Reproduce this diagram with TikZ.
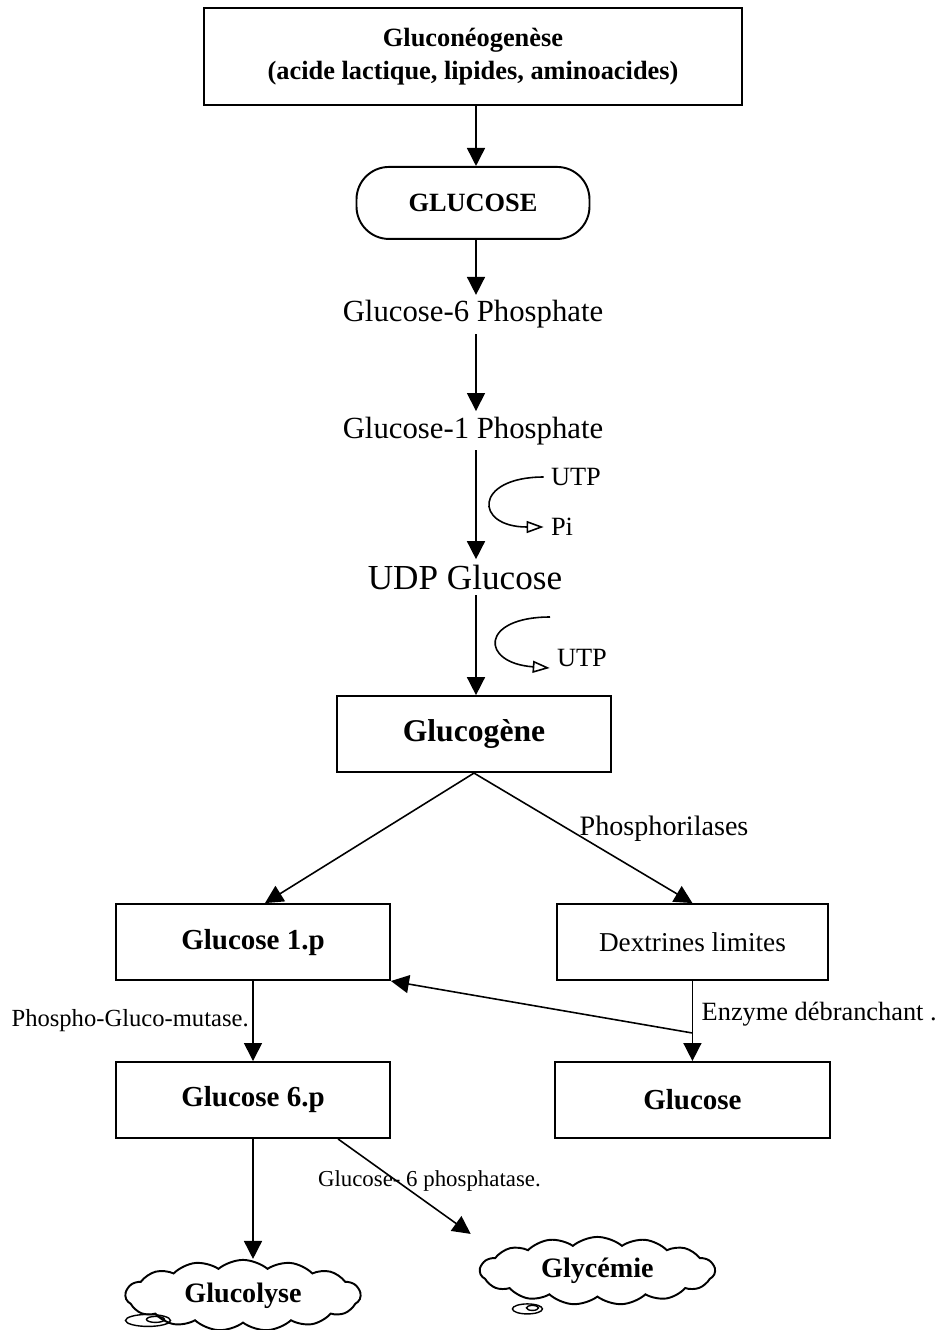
\documentclass[tikz,border=0pt]{standalone}
\usepackage{fontspec}
\setmainfont{Liberation Serif}
\usetikzlibrary{arrows.meta, positioning, shapes.symbols, calc}
\tikzset{
	source/.style={rectangle, draw, line width=1.1pt, align=center, minimum width=10.76cm, minimum height=1.94cm, font=\fontsize{15}{18.7}\selectfont\bfseries},
	pill/.style={rectangle, rounded corners=0.65cm, draw, line width=1.1pt, minimum width=4.66cm, minimum height=1.44cm, font=\fontsize{15}{18}\selectfont\bfseries},
	metab/.style={inner sep=3pt, font=\fontsize{17.5}{20}\selectfont},
	stepbox/.style={rectangle, draw, line width=1.1pt, minimum width=5.48cm, minimum height=1.52cm, font=\fontsize{16.5}{19}\selectfont\bfseries},
	sink/.style={cloud, cloud puffs=15, cloud puff arc=80, aspect=3.3, draw, line width=1.1pt, minimum width=4.7cm, minimum height=1.42cm, font=\fontsize{16}{18}\selectfont\bfseries},
	cofactor/.style={inner sep=4pt, font=\fontsize{15}{17}\selectfont},
	enzyme/.style={inner sep=2pt, font=\fontsize{14}{16}\selectfont},
	arrow/.style={-{Triangle[length=0.36cm, width=0.36cm]}, line width=0.9pt},
	cofarrow/.style={-{Triangle[open, length=0.34cm, width=0.24cm]}, line width=0.9pt},
}
\begin{document}
\begin{tikzpicture}
	\useasboundingbox (0,0) rectangle (19.02,-26.6);
	\coordinate (spine) at (9.52,0);
	% main chain
	\node[source] (gluconeo) at (9.46,-1.13) {Gluconéogenèse\\(acide lactique, lipides, aminoacides)};
	\node[pill, below=1.2cm of gluconeo] (glucose) {GLUCOSE};
	\node[metab, below=1.1cm of glucose] (g6p) {Glucose-6 Phosphate};
	\node[metab, below=1.54cm of g6p] (g1p) {Glucose-1 Phosphate};
	\node[metab, below=2.18cm of g1p, xshift=-0.16cm, font=\fontsize{20}{22}\selectfont] (udp) {UDP Glucose};
	\node[stepbox, below=2.0cm of udp, xshift=0.18cm, font=\fontsize{18}{20}\selectfont\bfseries] (glycogen) {Glucogène};
	% breakdown
	\node[stepbox, below=2.6cm of glycogen, xshift=-4.42cm] (g1pbox) {Glucose 1.p};
	\node[stepbox, right=3.3cm of g1pbox, minimum width=5.42cm, font=\fontsize{15.5}{18}\selectfont] (dextrines) {Dextrines limites};
	\node[stepbox, below=1.6cm of g1pbox] (g6pbox) {Glucose 6.p};
	\node[stepbox, below=1.6cm of dextrines, minimum width=5.5cm] (glcbox) {Glucose};
	\node[sink, below=2.4cm of g6pbox, xshift=-0.2cm] (glucolyse) {Glucolyse};
	\node[sink, below=1.94cm of glcbox, xshift=-1.9cm, minimum height=1.36cm] (glycemie) {Glycémie};
	% cofactors
	\node[cofactor] (utpa) at (11.52,-9.54) {UTP};
	\node[cofactor] (pia) at (11.24,-10.54) {Pi};
	\coordinate (utpfrom) at (11.0,-12.34);
	\node[cofactor] (utpb) at (11.64,-13.16) {UTP};

	\draw[arrow] (gluconeo.south -| spine) -- (glucose.north -| spine);
	\draw[arrow] (glucose.south -| spine) -- (g6p.north -| spine);
	\draw[arrow] (g6p.south -| spine) -- (g1p.north -| spine);
	\draw[arrow] (g1p.south -| spine) -- (udp.north -| spine);
	\draw[arrow] (udp.south -| spine) -- (glycogen.north -| spine);
	\draw[cofarrow] (utpa.west) .. controls +(-1.4,0) and +(-1.4,0) .. (pia.west);
	\draw[cofarrow] (utpfrom) .. controls +(-1.4,0) and +(-1.4,0.1) .. ([yshift=-0.2cm]utpb.west);

	\draw[arrow] (glycogen.south) -- ([xshift=0.24cm]g1pbox.north);
	\draw[arrow] (glycogen.south) -- (dextrines.north) node[enzyme, pos=0.43, anchor=west, xshift=0.15cm, font=\fontsize{16}{18}\selectfont] {Phosphorilases};
	\draw[arrow] (g1pbox.south) -- (g6pbox.north) node[enzyme, midway, left] {Phospho-Gluco-mutase.};
	\draw[arrow] (dextrines.south) -- (glcbox.north) coordinate[pos=0.65] (debranch) node[enzyme, pos=0.42, right, xshift=0.1cm, font=\fontsize{15}{17}\selectfont] {Enzyme débranchant .};
	\draw[arrow] (debranch) -- (g1pbox.south east);
	\draw[arrow] (g6pbox.south) -- (g6pbox.south |- glucolyse.north);
	\draw[arrow] ([xshift=1.7cm]g6pbox.south) -- ([xshift=-0.16cm, yshift=0.74cm]glycemie.west) node[enzyme, pos=0.44, xshift=0.66cm, font=\fontsize{13}{15}\selectfont] {Glucose- 6 phosphatase.};

	% swirls under the clouds
	\draw[line width=0.8pt] ([shift={(-1.9cm,-0.5cm)}]glucolyse.center) ellipse (0.45cm and 0.12cm);
	\draw[line width=0.8pt] ([shift={(-1.75cm,-0.48cm)}]glucolyse.center) ellipse (0.18cm and 0.06cm);
	\draw[line width=0.8pt] ([shift={(-1.4cm,-0.76cm)}]glycemie.center) ellipse (0.3cm and 0.1cm);
	\draw[line width=0.8pt] ([shift={(-1.3cm,-0.74cm)}]glycemie.center) ellipse (0.12cm and 0.05cm);
\end{tikzpicture}
\end{document}
